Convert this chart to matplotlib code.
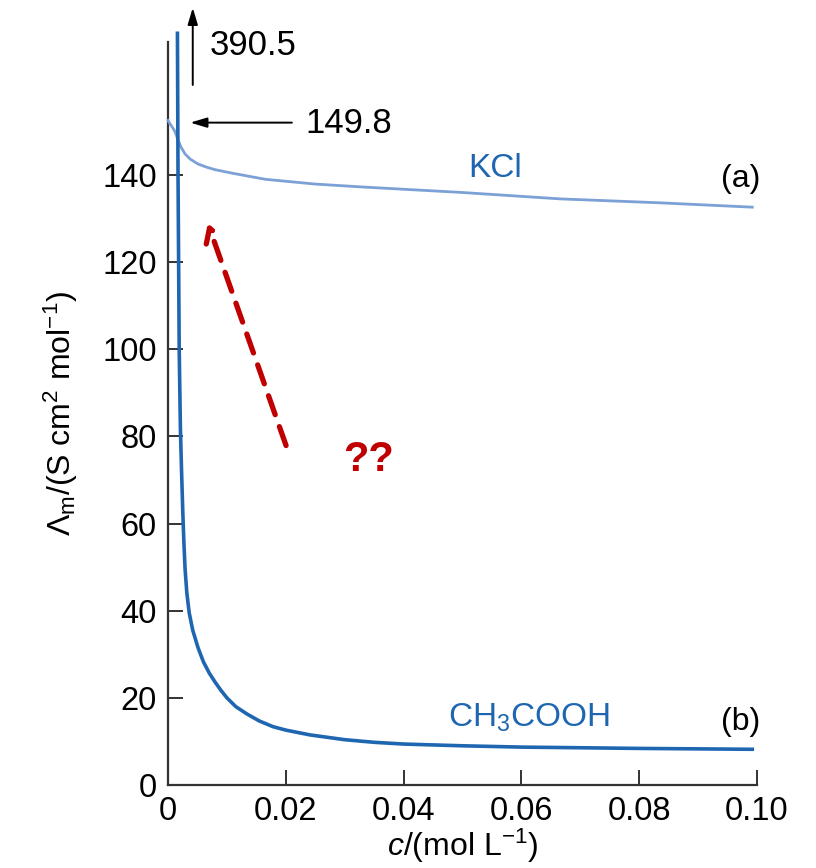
import matplotlib
matplotlib.use('Agg')
import matplotlib.pyplot as plt

# molar conductivity vs concentration
kcl_c = [0.0, 0.0004, 0.0008, 0.0012, 0.0017, 0.0022, 0.0029, 0.0038, 0.0051,
         0.0065, 0.0080, 0.0109, 0.0165, 0.025, 0.0334, 0.0496, 0.0666,
         0.0835, 0.0992]
kcl_lam = [152.5, 151.6, 150.8, 149.9, 148.0, 146.4, 144.8, 143.6, 142.5,
           141.8, 141.2, 140.4, 139.0, 137.9, 137.2, 136.0, 134.5, 133.6, 132.6]

acid_c = [0.0016, 0.0017, 0.0019, 0.0021, 0.0023, 0.0025, 0.0027, 0.0029, 0.0032,
          0.0036, 0.0042, 0.0051, 0.0060, 0.0070, 0.0080, 0.0090, 0.0100,
          0.0115, 0.0134, 0.0155, 0.0178, 0.020, 0.0241, 0.030, 0.035, 0.040,
          0.050, 0.060, 0.080, 0.0992]
acid_lam = [172.5, 140.0, 100.0, 82.0, 72.0, 63.0, 55.5, 49.5, 44.0,
            39.5, 35.5, 31.5, 28.3, 25.7, 23.6, 21.7, 20.0,
            18.0, 16.3, 14.7, 13.4, 12.6, 11.5, 10.4, 9.8, 9.4,
            9.0, 8.7, 8.4, 8.2]

x_ticks = [0, 0.02, 0.04, 0.06, 0.08, 0.10]
x_labels = ['0', '0.02', '0.04', '0.06', '0.08', '0.10']
y_ticks = [0, 20, 40, 60, 80, 100, 120, 140]

plt.rcParams['font.family'] = ['Liberation Sans', 'DejaVu Sans']
plt.rcParams['mathtext.fontset'] = 'custom'
plt.rcParams['mathtext.rm'] = 'Liberation Sans'
plt.rcParams['mathtext.it'] = 'Liberation Sans:italic'

fig = plt.figure(figsize=(8.16, 8.68), dpi=100)
ax = fig.add_axes([0.2059, 0.0956, 0.7218, 0.856])

kcl_col = '#7ba1d6'
acid_col = '#1f66b0'
ax.plot(kcl_c, kcl_lam, color=kcl_col, lw=2.0, clip_on=False, zorder=3)
ax.plot(acid_c, acid_lam, color=acid_col, lw=2.6, clip_on=False, zorder=4)

ax.set_xlim(0, 0.10)
ax.set_ylim(0, 170.5)
ax.set_xticks(x_ticks)
ax.set_xticklabels(x_labels)
ax.set_yticks(y_ticks)
ax.tick_params(direction='in', length=11, width=1.4, labelsize=23.5, pad=8,
               color='#333333')
for side in ['top', 'right']:
    ax.spines[side].set_visible(False)
for side in ['left', 'bottom']:
    ax.spines[side].set_linewidth(1.6)
    ax.spines[side].set_color('#333333')

ax.set_xlabel(r'$c$/(mol L$^{-1}$)', fontsize=23, labelpad=0)
ax.set_ylabel(r'$\mathit{\Lambda}_{\mathrm{m}}$/(S cm$^2$ mol$^{-1}$)', fontsize=23,
              labelpad=16)

# curve labels
ax.text(0.0555, 141.5, 'KCl', color=acid_col, fontsize=24, ha='center', va='center')
ax.text(0.0972, 139.0, '(a)', fontsize=23, ha='center', va='center')
ax.text(0.0613, 15.5, r'CH$_3$COOH', color=acid_col, fontsize=24, ha='center',
        va='center')
ax.text(0.0972, 14.5, '(b)', fontsize=23, ha='center', va='center')

# limiting values
ax.annotate('', xy=(0.0042, 179.0), xytext=(0.0042, 160.0),
            arrowprops=dict(arrowstyle='-|>,head_length=1.0,head_width=0.3',
                            color='black', lw=1.4),
            annotation_clip=False)
ax.text(0.0071, 169.8, '390.5', fontsize=25, va='center', ha='left', clip_on=False)
ax.annotate('', xy=(0.0033, 152.0), xytext=(0.0215, 152.0),
            arrowprops=dict(arrowstyle='-|>,head_length=1.0,head_width=0.3',
                            color='black', lw=1.4))
ax.text(0.0233, 151.8, '149.8', fontsize=25, va='center', ha='left')

# red question arrow
red = '#c00000'
ax.annotate('', xy=(0.0066, 129.5), xytext=(0.0202, 77.3),
            arrowprops=dict(arrowstyle='->,head_length=1.0,head_width=0.6',
                            color=red, lw=3.8, linestyle=(0, (3.8, 2.4))))
ax.text(0.034, 74.5, '??', color=red, fontsize=30, fontweight='bold',
        ha='center', va='center')

fig.savefig('out.png', dpi=100)
